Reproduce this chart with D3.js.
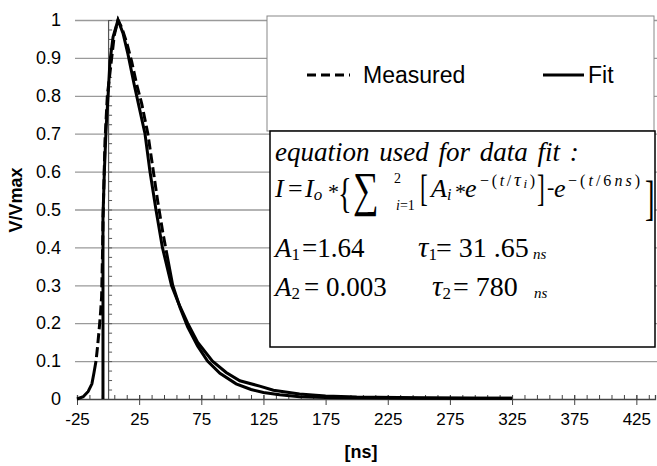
<!DOCTYPE html>
<html>
<head>
<meta charset="utf-8">
<script src="https://cdn.jsdelivr.net/npm/d3@7"></script>
<style>
  body { margin: 0; background: #fff; }
  svg { display: block; }
  .tick text { font-family: "Liberation Sans", Arial, sans-serif; fill: #000; }
  .eq { font-family: "Liberation Serif", "Times New Roman", serif; fill: #000; }
</style>
</head>
<body>
<div id="chart"></div>
<script>
// pulse shape (x in ns, y = V/Vmax)
let measured_x = [-25, -20, -16, -13, -11.3, -9.7, -8.4, -7, -6, -5.2, -4.5, -4, -2.5, -0.6, 2.9, 5, 8,
                  11, 15, 19, 23, 27, 32, 36, 40, 44, 48, 52, 58, 64, 72, 80, 90, 103, 115, 125, 138,
                  154, 175, 200, 250, 300, 325]
let measured_y = [0, 0.006, 0.02, 0.04, 0.07, 0.1, 0.14, 0.19, 0.23, 0.27, 0.38, 0.48, 0.68, 0.8, 0.9, 0.96, 1,
                  0.98, 0.94, 0.89, 0.83, 0.78, 0.7, 0.61, 0.52, 0.44, 0.37, 0.3, 0.24, 0.19, 0.14, 0.1, 0.068, 0.04, 0.025, 0.017, 0.011,
                  0.006, 0.004, 0.003, 0.002, 0.002, 0.002]
let fit_x = [-4.1, -4.1, -3, -1.5, 0, 1.5, 4, 8, 12, 16, 21, 25, 29.7, 33.7, 38.5, 43.7, 51, 57, 64,
             72, 84, 95, 106, 122, 133, 154, 175, 200, 250, 300, 325]
let fit_y = [0, 0.48, 0.6, 0.72, 0.8, 0.89, 0.955, 1, 0.965, 0.91, 0.83, 0.77, 0.7, 0.6, 0.5, 0.4, 0.3, 0.25, 0.2,
             0.15, 0.1, 0.07, 0.048, 0.034, 0.023, 0.013, 0.008, 0.005, 0.003, 0.002, 0.002]

let x_major = [-25, 25, 75, 125, 175, 225, 275, 325, 375, 425]
let y_ticks = [0, 0.1, 0.2, 0.3, 0.4, 0.5, 0.6, 0.7, 0.8, 0.9, 1]
let series_names = ["Measured", "Fit"]

let width = 657, height = 466

let x = d3.scaleLinear().domain([-25, 440]).range([77, 655])
let y = d3.scaleLinear().domain([0, 1]).range([399, 20])

let svg = d3.select("#chart").append("svg")
    .attr("width", width)
    .attr("height", height)

// horizontal gridlines
svg.append("g")
    .attr("transform", "translate(" + x(-25) + ",0)")
    .call(d3.axisRight(y).tickValues(y_ticks.slice(1)).tickSize(x(440) - x(-25) + 2).tickFormat(""))
    .call(g => g.select(".domain").remove())
    .call(g => g.selectAll("line").attr("x1", -2).attr("stroke", "#9a9a9a").attr("stroke-width", 1.3))

// y tick labels on the left
svg.append("g")
    .attr("transform", "translate(" + x(-25) + ",0)")
    .call(d3.axisLeft(y).tickValues(y_ticks).tickSize(0).tickPadding(16).tickFormat(d => String(d)))
    .call(g => g.select(".domain").remove())
    .call(g => g.selectAll("text").style("font-size", "18px"))

// value axis crossing at x = 0 with minor ticks
svg.append("g")
    .attr("transform", "translate(" + x(0) + ",0)")
    .call(d3.axisRight(y).tickValues(d3.range(0, 1.001, 0.025)).tickSize(4).tickFormat(""))
    .call(g => g.select(".domain").attr("stroke", "#555").attr("stroke-width", 1.2))
    .call(g => g.selectAll("line").attr("stroke", "#555"))

// x axis: minor ticks upward, major ticks crossing
svg.append("g")
    .attr("transform", "translate(0," + y(0) + ")")
    .call(d3.axisTop(x).tickValues(d3.range(-25, 440, 10)).tickSize(4).tickFormat(""))
    .call(g => g.select(".domain").attr("stroke", "#444").attr("stroke-width", 1.3))
    .call(g => g.selectAll("line").attr("stroke", "#444"))

svg.append("g")
    .attr("transform", "translate(0," + y(0) + ")")
    .call(d3.axisBottom(x).tickValues(x_major).tickSize(6).tickPadding(8).tickFormat(d => String(d)))
    .call(g => g.select(".domain").remove())
    .call(g => g.selectAll("line").attr("y1", -4).attr("stroke", "#444"))
    .call(g => g.selectAll("text").style("font-size", "17px"))

// axis titles
svg.append("text")
    .attr("transform", "translate(22,200) rotate(-90)")
    .attr("text-anchor", "middle")
    .style("font-family", "Liberation Sans, Arial, sans-serif")
    .style("font-size", "18px")
    .style("font-weight", "bold")
    .text("V/Vmax")

svg.append("text")
    .attr("x", 361)
    .attr("y", 458)
    .attr("text-anchor", "middle")
    .style("font-family", "Liberation Sans, Arial, sans-serif")
    .style("font-size", "18px")
    .style("font-weight", "bold")
    .text("[ns]")

// curves
let line = d3.line()
    .x(function(d) { return x(d[0]) })
    .y(function(d) { return y(d[1]) })

let measured = d3.zip(measured_x, measured_y)
let fit = d3.zip(fit_x, fit_y)

let measured_path = svg.append("path")
    .datum(measured)
    .attr("d", line)
    .attr("fill", "none")
    .attr("stroke", "#000")
    .attr("stroke-width", 3)

// the measured trace only looks dashed where its points are sparse (rise and upper fall)
function length_to(n) {
  let p = svg.append("path").attr("d", line(measured.slice(0, n)))
  let l = p.node().getTotalLength()
  p.remove()
  return l
}
let dash_start = length_to(measured_x.indexOf(-9.7) + 1)
let dash_end = length_to(measured_x.indexOf(48) + 1)
let total = measured_path.node().getTotalLength()
let dashes = [dash_start]
let pos = dash_start
let on = false
while (pos < dash_end) {
  let seg = on ? 10 : 4
  dashes.push(seg)
  pos += seg
  on = !on
}
if (!on) dashes.push(0)
dashes.push(total)
measured_path.attr("stroke-dasharray", dashes.join(","))

svg.append("path")
    .datum(fit)
    .attr("d", line)
    .attr("fill", "none")
    .attr("stroke", "#000")
    .attr("stroke-width", 3)

// legend box
let legend = svg.append("g")
legend.append("rect")
    .attr("x", 267).attr("y", 16)
    .attr("width", 387).attr("height", 115)
    .attr("fill", "#fff")
    .attr("stroke", "#888")
    .attr("stroke-width", 1)

legend.append("line")
    .attr("x1", 307).attr("x2", 350).attr("y1", 75).attr("y2", 75)
    .attr("stroke", "#000").attr("stroke-width", 3)
    .attr("stroke-dasharray", "9,5")
legend.append("text")
    .attr("x", 363).attr("y", 83)
    .style("font-family", "Liberation Sans, Arial, sans-serif")
    .style("font-size", "23px")
    .text(series_names[0])
legend.append("line")
    .attr("x1", 543).attr("x2", 584).attr("y1", 75).attr("y2", 75)
    .attr("stroke", "#000").attr("stroke-width", 3)
legend.append("text")
    .attr("x", 588).attr("y", 83)
    .style("font-family", "Liberation Sans, Arial, sans-serif")
    .style("font-size", "23px")
    .text(series_names[1])

// equation box
let eq = svg.append("g")
eq.append("rect")
    .attr("x", 270).attr("y", 131)
    .attr("width", 385).attr("height", 216)
    .attr("fill", "#fff")
    .attr("stroke", "#000")
    .attr("stroke-width", 1.5)

// a run of text pieces: [text, size, italic, baseline shift]
function run(px, py, pieces, fit_width) {
  let t = eq.append("text")
      .attr("class", "eq")
      .attr("x", px).attr("y", py)
  let shift = 0
  pieces.forEach(function(p) {
    t.append("tspan")
        .attr("dy", p[3] - shift)
        .style("font-size", p[1] + "px")
        .style("font-style", p[2] ? "italic" : "normal")
        .text(p[0])
    shift = p[3]
  })
  if (fit_width) t.attr("textLength", fit_width).attr("lengthAdjust", "spacing")
  return t
}

// stretched brackets and the sum sign
function big(txt, px, py, size, sx, sy) {
  eq.append("text")
      .attr("class", "eq")
      .attr("transform", "translate(" + px + "," + py + ") scale(" + sx + "," + sy + ")")
      .style("font-size", size + "px")
      .text(txt)
}

run(275, 161, [["equation used for data fit :", 27, true, 0]])
    .style("word-spacing", "3px")

run(275, 197, [["I", 26, true, 0]])
run(288, 197, [["=", 26, false, 0]])
run(305, 197, [["I", 26, true, 0], ["o", 17, true, 3]])
run(328, 199, [["*", 22, false, 0]])
big("{", 338, 207, 30, 0.95, 1.4)
big("\u2211", 353, 206, 36, 1.0, 1.35)
run(394, 183, [["2", 14, false, 0]])
run(396, 210, [["i", 14, true, 0], ["=1", 14, false, 0]])
big("[", 420, 201, 26, 0.9, 1.45)
run(431, 197, [["A", 26, true, 0], ["i", 16, true, 3]])
run(455, 199, [["*", 22, false, 0]])
run(465, 197, [["e", 26, true, 0]])
run(480, 186, [["\u2212(", 16, false, 0], ["t", 16, true, 0], ["/", 16, false, 0], ["\u03c4", 19, true, 0],
               ["i", 13, true, 2], [")", 16, false, 0]], 55)
big("]", 537, 201, 26, 0.9, 1.45)
run(547, 194, [["-", 22, false, 0]])
run(554, 197, [["e", 26, true, 0]])
run(568, 186, [["\u2212(", 16, false, 0], ["t", 16, true, 0], ["/", 16, false, 0], ["6", 16, false, 0],
               ["ns", 16, true, 0], [")", 16, false, 0]], 72)
big("]", 645, 214, 32, 0.9, 1.5)

run(275, 257, [["A", 27, true, 0], ["1", 17, false, 3]])
run(302, 257, [["=1.64", 27, false, 0]])
run(418, 257, [["\u03c4", 29, true, 0], ["1", 17, false, 3]])
run(436, 257, [["= 31 .65", 28, false, 0]])
run(533, 259, [["ns", 15, true, 0]])

run(275, 296, [["A", 27, true, 0], ["2", 17, false, 3]])
run(304, 296, [["= 0.003", 27, false, 0]])
run(432, 296, [["\u03c4", 29, true, 0], ["2", 17, false, 3]])
run(453, 296, [["=  780", 28, false, 0]])
run(534, 298, [["ns", 15, true, 0]])
</script>
</body>
</html>
